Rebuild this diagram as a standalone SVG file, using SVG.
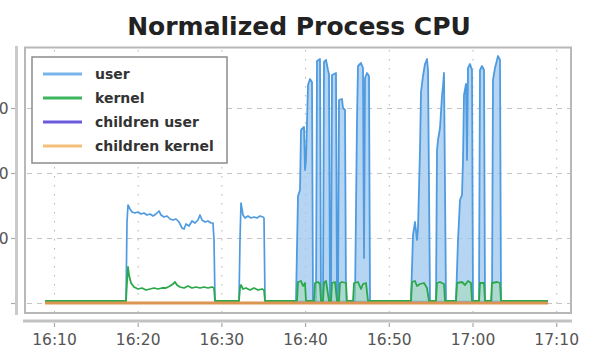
<svg xmlns="http://www.w3.org/2000/svg" width="591" height="349" viewBox="0 0 591 349">
  <style>
    .lbl { font-family: "DejaVu Sans", "Liberation Sans", sans-serif; font-size: 15.5px; fill: #555; }
    .leg { font-family: "DejaVu Sans", "Liberation Sans", sans-serif; font-size: 14px; font-weight: bold; fill: #333; }
    .hgrid { stroke: #c4c4c4; stroke-width: 1; stroke-dasharray: 5 5; fill: none; }
    .vgrid { stroke: #b4b4b4; stroke-width: 1; stroke-dasharray: 1.5 7.5; fill: none; }
    .tick { stroke: #aaa; stroke-width: 1.2; }
    .user { stroke: #4f9be0; stroke-width: 1.7; fill: none; stroke-linejoin: round; }
    .userfill { stroke: #4f9be0; stroke-width: 1.8; fill: #9dc7ef; fill-opacity: 0.75; stroke-linejoin: round; }
    .kernel { stroke: #2aa84a; stroke-width: 1.8; fill: none; stroke-linejoin: round; }
    .kernelfill { stroke: #2aa84a; stroke-width: 1.8; fill: #a6dcb3; fill-opacity: 0.55; stroke-linejoin: round; }
    .cuser { stroke: #6a5ae0; stroke-width: 2; fill: none; }
    .ckernel { stroke: #dd9450; stroke-width: 3; fill: none; }
  </style>

  <rect x="0" y="0" width="591" height="349" fill="#fff"/>

  <!-- title -->
  <g id="title">
    <text x="299" y="35" text-anchor="middle" font-family="'DejaVu Sans', 'Liberation Sans', sans-serif" font-size="25" font-weight="bold" fill="#222">Normalized Process CPU</text>
  </g>

  <!-- plot frame and axes -->
  <g id="axes">
    <rect x="25" y="47.5" width="546" height="265.5" fill="#fff" stroke="#b8b8b8" stroke-width="2"/>
    <line x1="16.5" y1="46" x2="16.5" y2="315" stroke="#cacaca" stroke-width="3"/>
    <line x1="23" y1="321" x2="572" y2="321" stroke="#c2c2c2" stroke-width="3"/>
    <!-- y ticks -->
    <line class="tick" x1="11" y1="108.5" x2="15" y2="108.5"/>
    <line class="tick" x1="11" y1="173.5" x2="15" y2="173.5"/>
    <line class="tick" x1="11" y1="238.5" x2="15" y2="238.5"/>
    <line class="tick" x1="11" y1="303.5" x2="15" y2="303.5"/>
    <!-- x ticks -->
    <g class="tick">
      <line x1="54.5" y1="323" x2="54.5" y2="327"/>
      <line x1="138.2" y1="323" x2="138.2" y2="327"/>
      <line x1="221.9" y1="323" x2="221.9" y2="327"/>
      <line x1="305.6" y1="323" x2="305.6" y2="327"/>
      <line x1="389.3" y1="323" x2="389.3" y2="327"/>
      <line x1="473" y1="323" x2="473" y2="327"/>
      <line x1="556.7" y1="323" x2="556.7" y2="327"/>
    </g>
    <!-- y labels -->
    <text class="lbl" x="8.5" y="114" text-anchor="end">0</text>
    <text class="lbl" x="8.5" y="179" text-anchor="end">0</text>
    <text class="lbl" x="8.5" y="244" text-anchor="end">0</text>
    <!-- x labels -->
    <text class="lbl" x="54.5" y="345" text-anchor="middle">16:10</text>
    <text class="lbl" x="138.2" y="345" text-anchor="middle">16:20</text>
    <text class="lbl" x="221.9" y="345" text-anchor="middle">16:30</text>
    <text class="lbl" x="305.6" y="345" text-anchor="middle">16:40</text>
    <text class="lbl" x="389.3" y="345" text-anchor="middle">16:50</text>
    <text class="lbl" x="473" y="345" text-anchor="middle">17:00</text>
    <text class="lbl" x="556.7" y="345" text-anchor="middle">17:10</text>
  </g>

  <!-- grid -->
  <g id="grid">
    <line class="hgrid" x1="27" y1="108.5" x2="570" y2="108.5"/>
    <line class="hgrid" x1="27" y1="173.5" x2="570" y2="173.5"/>
    <line class="hgrid" x1="27" y1="238.5" x2="570" y2="238.5"/>
    <line class="hgrid" x1="27" y1="303.5" x2="570" y2="303.5"/>
    <line class="vgrid" x1="54.5" y1="50" x2="54.5" y2="312"/>
    <line class="vgrid" x1="138.2" y1="50" x2="138.2" y2="312"/>
    <line class="vgrid" x1="221.9" y1="50" x2="221.9" y2="312"/>
    <line class="vgrid" x1="305.6" y1="50" x2="305.6" y2="312"/>
    <line class="vgrid" x1="389.3" y1="50" x2="389.3" y2="312"/>
    <line class="vgrid" x1="473" y1="50" x2="473" y2="312"/>
    <line class="vgrid" x1="556.7" y1="50" x2="556.7" y2="312"/>
  </g>

  <!-- data series -->
  <g id="series">
    <!-- user -->
    <path class="user" d="M45,301 L126,301 L127,222 L128,205 L130,209 L132,212 L135,213 L138,212 L141,214 L144,213 L147,215 L150,214 L153,216 L156,214 L159,211 L161,215 L164,217 L167,216 L170,219 L173,220 L176,219 L179,222 L182,228 L184,229 L186,224 L189,226 L192,221 L195,223 L198,220 L200,215 L202,220 L205,222 L208,221 L211,223 L213,223 L214,240 L215,301 L239,301 L240,240 L241,203 L243,215 L245,218 L248,216 L251,218 L254,217 L257,218 L260,216 L263,217 L264,218 L265,301 L548,301"/>
    <path class="userfill" d="M296,301 L298,196 L300,190 L301,130 L304,127 L305,170 L306,160 L308,85 L310,79 L312,82 L313,301 L316,301 L317,61 L320,59 L321,301 L323,301 L324,62 L326,60 L328,70 L329,74 L330,301 L331,301 L332,75 L336,73 L337,301 L338,301 L339,100 L342,99 L343,108 L345,110 L346,301 L355,301 L357,120 L358,66 L361,63 L363,68 L364,258 L365,78 L367,73 L369,76 L370,301 L411,301 L413,235 L415,222 L417,240 L418,228 L420,150 L421,92 L423,76 L425,64 L427,59 L428,70 L430,301 L436,301 L437,150 L438,140 L440,128 L442,96 L443,86 L444,73 L446,301 L456,301 L458,240 L460,200 L462,195 L463,160 L464,95 L466,84 L467,160 L468,68 L470,64 L472,70 L473,301 L479,301 L480,70 L482,66 L484,70 L485,301 L492,301 L493,80 L495,68 L497,60 L498,56 L500,60 L501,301 L548,301"/>
    <!-- kernel -->
    <path class="kernel" d="M45,301 L126,301 L127,282 L128,267 L129,275 L131,283 L134,287 L138,289 L142,288 L146,290 L150,289 L154,288 L158,289 L162,288 L166,288 L170,286 L173,284 L175,282 L177,285 L180,287 L184,288 L188,286 L192,288 L196,287 L200,288 L204,287 L208,288 L212,287 L214,288 L215,301 L239,301 L240,288 L241,285 L243,289 L246,288 L250,290 L254,288 L258,290 L262,289 L264,290 L265,301 L297,301"/>
    <path class="kernelfill" d="M297,301 L298,282 L301,281 L303,286 L305,283 L306,301 L314,301 L315,283 L318,282 L320,284 L321,301 L323,301 L324,283 L326,281 L329,301 L331,301 L332,283 L335,282 L337,301 L339,301 L340,283 L342,282 L346,283 L347,301 L353,301 L354,283 L358,282 L361,289 L363,284 L366,283 L368,301 L411,301 L412,282 L415,281 L417,286 L420,284 L424,283 L427,288 L429,301 L436,301 L437,283 L440,282 L444,284 L445,301 L456,301 L457,283 L462,282 L465,285 L468,281 L471,283 L472,301 L479,301 L480,283 L484,283 L485,301 L491,301 L492,283 L497,282 L500,283 L501,301 L548,301"/>
    <!-- children user -->
    <path class="cuser" d="M45,303 L548,303"/>
    <!-- children kernel -->
    <path class="ckernel" d="M45,303 L548,303"/>
  </g>

  <!-- legend -->
  <g id="legend">
    <rect x="32" y="57" width="195" height="106" fill="#fff" stroke="#8c8c8c" stroke-width="1.5"/>
    <line x1="43" y1="74" x2="82" y2="74" stroke="#78b4ec" stroke-width="3"/>
    <text class="leg" x="95" y="78.5">user</text>
    <line x1="43" y1="98" x2="82" y2="98" stroke="#3cb55c" stroke-width="3"/>
    <text class="leg" x="95" y="103">kernel</text>
    <line x1="43" y1="122" x2="82" y2="122" stroke="#6a5ae0" stroke-width="3"/>
    <text class="leg" x="95" y="127">children user</text>
    <line x1="43" y1="146" x2="82" y2="146" stroke="#f4bf7a" stroke-width="3"/>
    <text class="leg" x="95" y="151">children kernel</text>
  </g>
</svg>
